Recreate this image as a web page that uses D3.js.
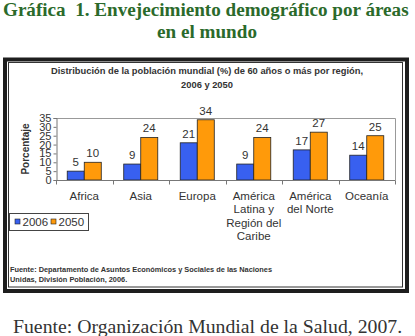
<!DOCTYPE html>
<html>
<head>
<meta charset="utf-8">
<script src="https://cdn.jsdelivr.net/npm/d3@7"></script>
<style>
	body { margin: 0; background: #fff; }
	svg { display: block; }
</style>
</head>
<body>
<div id="chart"></div>
<script>
	const regions = [['Africa'], ['Asia'], ['Europa'], ['América', 'Latina y', 'Región del', 'Caribe'], ['América', 'del Norte'], ['Oceanía']];
	const years = ['2006', '2050'];
	const values2006 = [5, 9, 21, 9, 17, 14];
	const values2050 = [10, 24, 34, 24, 27, 25];
	const yTicks = [0, 5, 10, 15, 20, 25, 30, 35];

	const W = 415, H = 336;
	const colors = ['#3860f0', '#ff9a0a'];
	const sans = 'Arial, "Liberation Sans", sans-serif';
	const serif = '"Times New Roman", "Liberation Serif", serif';

	const svg = d3.select('#chart').append('svg')
		.attr('width', W)
		.attr('height', H);

	// shrink/grow the font so a line spans a given width
	const fit = (sel, target) => {
		const size = parseFloat(sel.attr('font-size'));
		const w = sel.node().getComputedTextLength();
		sel.attr('font-size', (size * target / w).toFixed(2));
	};

	// page title
	const titleColor = '#2b6a2b';
	const t1 = svg.append('text')
		.attr('x', 3).attr('y', 16)
		.attr('font-family', serif).attr('font-weight', 'bold')
		.attr('font-size', 19).attr('fill', titleColor)
		.attr('xml:space', 'preserve')
		.text('Gráfica  1. Envejecimiento demográfico por áreas');
	fit(t1, 406);
	svg.append('text')
		.attr('x', 207).attr('y', 38)
		.attr('text-anchor', 'middle')
		.attr('font-family', serif).attr('font-weight', 'bold')
		.attr('font-size', t1.attr('font-size')).attr('fill', titleColor)
		.text('en el mundo');

	// frame
	svg.append('rect')
		.attr('x', 5).attr('y', 59.5)
		.attr('width', 402).attr('height', 231.5)
		.attr('fill', '#fff')
		.attr('stroke', '#1e1e1e').attr('stroke-width', 4);
	svg.append('rect')
		.attr('x', 8.5).attr('y', 62.5)
		.attr('width', 394).attr('height', 224.5)
		.attr('fill', 'none')
		.attr('stroke', '#333').attr('stroke-width', 1);

	// chart title
	const ctA = svg.append('text')
		.attr('x', 207).attr('y', 74)
		.attr('text-anchor', 'middle')
		.attr('font-family', sans).attr('font-weight', 'bold')
		.attr('font-size', 8.6).attr('fill', '#333')
		.text('Distribución de la población mundial (%) de 60 años o más por región,');
	fit(ctA, 312);
	svg.append('text')
		.attr('x', 207).attr('y', 88)
		.attr('text-anchor', 'middle')
		.attr('font-family', sans).attr('font-weight', 'bold')
		.attr('font-size', ctA.attr('font-size')).attr('fill', '#333')
		.text('2006 y 2050');

	// plot area
	const plot = { left: 56, right: 395, top: 118, bottom: 180 };

	const x0 = d3.scaleBand()
		.domain(d3.range(regions.length))
		.range([plot.left, plot.right])
		.paddingInner(0)
		.paddingOuter(0);
	const x1 = d3.scaleBand()
		.domain(years)
		.range([0, x0.bandwidth()])
		.paddingOuter(0.66)
		.paddingInner(0);
	const y = d3.scaleLinear()
		.domain([0, 35])
		.range([plot.bottom, plot.top]);

	svg.append('path')
		.attr('d', `M${plot.left},${plot.top + 0.5}H${plot.right + 0.5}V${plot.bottom}`)
		.attr('fill', 'none')
		.attr('stroke', '#999');

	const yAxis = svg.append('g')
		.attr('transform', `translate(${plot.left + 0.5},0)`)
		.call(d3.axisLeft(y).tickValues(yTicks).tickSize(3).tickPadding(2));
	yAxis.select('.domain').attr('stroke', '#777');
	yAxis.selectAll('.tick line').attr('stroke', '#777');
	yAxis.selectAll('.tick text')
		.attr('font-family', sans).attr('font-size', 11).attr('fill', '#333');

	svg.append('text')
		.attr('transform', `translate(29,${(plot.top + plot.bottom) / 2}) rotate(-90)`)
		.attr('text-anchor', 'middle')
		.attr('font-family', sans).attr('font-weight', 'bold')
		.attr('font-size', 10).attr('fill', '#333')
		.text('Porcentaje');

	const series = [values2006, values2050];
	const groups = svg.selectAll('.region')
		.data(regions)
		.enter()
		.append('g')
		.attr('class', 'region')
		.attr('transform', (d, i) => `translate(${x0(i)},0)`);

	groups.selectAll('rect')
		.data((d, i) => series.map((s, j) => ({ year: years[j], value: s[i], j })))
		.enter()
		.append('rect')
		.attr('x', d => x1(d.year))
		.attr('y', d => y(d.value))
		.attr('width', x1.bandwidth())
		.attr('height', d => y(0) - y(d.value))
		.attr('fill', d => colors[d.j])
		.attr('stroke', '#222').attr('stroke-width', 0.8);

	groups.selectAll('.val')
		.data((d, i) => series.map((s, j) => ({ year: years[j], value: s[i] })))
		.enter()
		.append('text')
		.attr('class', 'val')
		.attr('x', d => x1(d.year) + x1.bandwidth() / 2)
		.attr('y', d => y(d.value) - 5)
		.attr('text-anchor', 'middle')
		.attr('font-family', sans).attr('font-size', 11.5).attr('fill', '#333')
		.text(d => d.value);

	// x axis
	const xAxis = svg.append('g')
		.attr('transform', `translate(0,${plot.bottom + 0.5})`);
	xAxis.append('line')
		.attr('x1', plot.left).attr('x2', plot.right + 0.5)
		.attr('stroke', '#777');
	xAxis.selectAll('.tick')
		.data(d3.range(regions.length + 1))
		.enter()
		.append('line')
		.attr('x1', i => Math.round(plot.left + i * x0.step()) + 0.5)
		.attr('x2', i => Math.round(plot.left + i * x0.step()) + 0.5)
		.attr('y1', 0).attr('y2', 4)
		.attr('stroke', '#777');

	groups.append('text')
		.attr('text-anchor', 'middle')
		.attr('font-family', sans).attr('font-size', 11.5).attr('fill', '#333')
		.selectAll('tspan')
		.data(d => d)
		.enter()
		.append('tspan')
		.attr('x', x0.bandwidth() / 2)
		.attr('y', (d, i) => 200 + i * 13.3)
		.text(d => d);

	// legend
	const legend = svg.append('g').attr('transform', 'translate(9.5,213.5)');
	legend.append('rect')
		.attr('width', 79).attr('height', 17)
		.attr('fill', '#fff').attr('stroke', '#444');
	years.forEach((yr, i) => {
		const lx = 5.5 + i * 36;
		legend.append('rect')
			.attr('x', lx).attr('y', 5.5)
			.attr('width', 5).attr('height', 5)
			.attr('fill', colors[i]).attr('stroke', '#222').attr('stroke-width', 0.6);
		legend.append('text')
			.attr('x', lx + 7.5).attr('y', 12.8)
			.attr('font-family', sans).attr('font-size', 11.5).attr('fill', '#333')
			.text(yr);
	});

	// source inside frame
	const srcA = svg.append('text')
		.attr('x', 10).attr('y', 272)
		.attr('font-family', sans).attr('font-weight', 'bold')
		.attr('font-size', 7.2).attr('fill', '#333')
		.text('Fuente: Departamento de Asuntos Económicos y Sociales de las Naciones');
	fit(srcA, 262);
	svg.append('text')
		.attr('x', 10).attr('y', 282)
		.attr('font-family', sans).attr('font-weight', 'bold')
		.attr('font-size', srcA.attr('font-size')).attr('fill', '#333')
		.text('Unidas, División Población, 2006.');

	// bottom source
	const foot = svg.append('text')
		.attr('x', 13).attr('y', 333)
		.attr('font-family', serif)
		.attr('font-size', 18).attr('fill', '#333')
		.text('Fuente: Organización Mundial de la Salud, 2007.');
	fit(foot, 389);
</script>
</body>
</html>
